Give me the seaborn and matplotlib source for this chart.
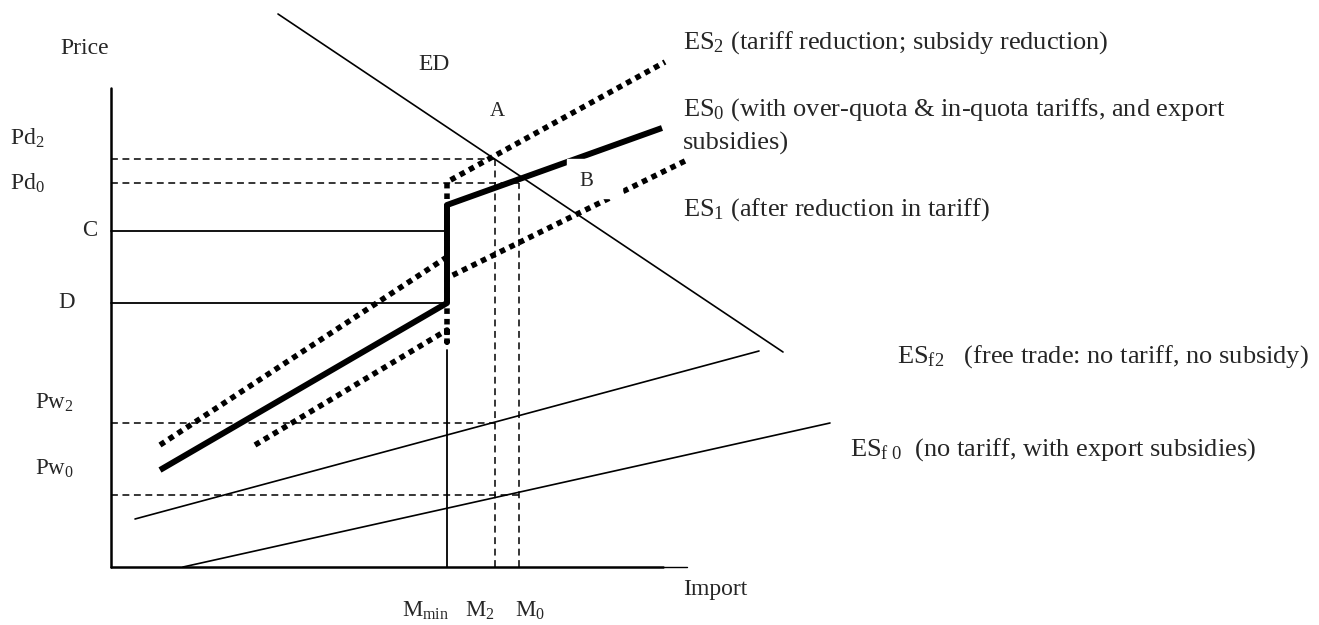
import matplotlib
matplotlib.use("Agg")
import matplotlib.pyplot as plt
import matplotlib.patches as mpatches
import pandas as pd
import seaborn as sns

sns.set_style("white")
plt.rcParams["font.family"] = ["Liberation Serif", "DejaVu Serif"]
plt.rcParams["mathtext.fontset"] = "custom"
plt.rcParams["mathtext.rm"] = "Liberation Serif"
plt.rcParams["mathtext.it"] = "Liberation Serif:italic"

# quantity (import) and price levels, origin at the axis corner
m_min, m2, m0 = 336, 384, 408
pd2, pd0, p_c, p_d, pw2, pw0 = 408, 384, 336, 264, 144, 72

# curves
ed_x = [167, 672]
ed_y = [553, 215]
es2_x = [49, 336, 336, 554]
es2_y = [122, 310, 385, 505]
es0_x = [49, 336, 336, 551]
es0_y = [97, 264, 362, 439]
es1_x = [144, 336, 336, 336, 576]
es1_y = [122, 237, 225, 289, 407]
esf2_x = [24, 648]
esf2_y = [48, 216]
esf0_x = [72, 719]
esf0_y = [0, 144]

fig = plt.figure(figsize=(13.19, 6.25), dpi=100)
ax = fig.add_axes([0, 0, 1, 1])
ax.set_xlim(-111, 1208)
ax.set_ylim(-58, 567)
ax.axis("off")

k = "black"
big = 19
mid = 16.5
small = 15


def curve(x, y, **kw):
    df = pd.DataFrame({"x": x, "y": y})
    sns.lineplot(data=df, x="x", y="y", sort=False, estimator=None, ax=ax,
                 color=k, **kw)


# axes
curve([0, 0], [0, 479], lw=1.8)
curve([0, 552], [0, 0], lw=1.8)
curve([552, 576], [0, 0], lw=1.0)

# reference lines
dash = dict(lw=1.1, dashes=(4.5, 3))
curve([0, m2], [pd2, pd2], **dash)
curve([m2, m2], [0, pd2], **dash)
curve([0, m0], [pd0, pd0], **dash)
curve([m0, m0], [0, pd0], **dash)
curve([0, m2], [pw2, pw2], **dash)
curve([0, m0], [pw0, pw0], **dash)
curve([0, m_min], [p_c, p_c], lw=1.3)
curve([0, m_min], [p_d, p_d], lw=1.3)
curve([m_min, m_min], [0, 217], lw=1.3)

# demand / supply curves
curve(ed_x, ed_y, lw=1.2)
curve(esf2_x, esf2_y, lw=1.2)
curve(esf0_x, esf0_y, lw=1.2)
dots = dict(lw=4.0, dashes=(1, 0.9), dash_capstyle="butt")
curve(es2_x, es2_y, **dots)
curve(es1_x, es1_y, **dots)
curve(es0_x, es0_y, lw=4.3, solid_capstyle="butt")

# text box of "B" covering the line
ax.add_patch(mpatches.Rectangle((456, 369), 55, 39, color="white", zorder=5))
ax.text(475, 385, "B", fontsize=small, ha="center", va="center", zorder=6)
ax.text(386, 455, "A", fontsize=small, ha="center", va="center")
ax.text(307, 502, "ED", fontsize=17, va="center")

ax.text(-51, 519, "Price", fontsize=17, va="center")
ax.text(-101, 429, r"Pd$_{\mathrm{2}}$", fontsize=17, va="center")
ax.text(-101, 384, r"Pd$_{\mathrm{0}}$", fontsize=17, va="center")
ax.text(-29, 336, "C", fontsize=mid, va="center")
ax.text(-53, 264, "D", fontsize=mid, va="center")
ax.text(-76, 164, r"Pw$_{\mathrm{2}}$", fontsize=mid, va="center")
ax.text(-76, 98, r"Pw$_{\mathrm{0}}$", fontsize=mid, va="center")

ax.text(572, 524, r"ES$_{\mathrm{2}}$ (tariff reduction; subsidy reduction)",
        fontsize=big, va="center")
ax.text(572, 457, r"ES$_{\mathrm{0}}$ (with over-quota & in-quota tariffs, and export",
        fontsize=big, va="center")
sub = ax.text(572, 424, "subsidies)", fontsize=big, va="center")
clip = mpatches.Rectangle((560, 417), 200, 40, transform=ax.transData,
                          visible=False)
ax.add_patch(clip)
sub.set_clip_path(clip)
ax.text(572, 357, r"ES$_{\mathrm{1}}$ (after reduction in tariff)",
        fontsize=big, va="center")
ax.text(786, 210, r"ES$_{\mathrm{f2}}$   (free trade: no tariff, no subsidy)",
        fontsize=big, va="center")
ax.text(739, 117, r"ES$_{\mathrm{f\ 0}}$  (no tariff, with export subsidies)",
        fontsize=big, va="center")

ax.text(572, -23, "Import", fontsize=17, va="center")
ax.text(291, -44, r"M$_{\mathrm{min}}$", fontsize=mid, va="center")
ax.text(354, -44, r"M$_{\mathrm{2}}$", fontsize=mid, va="center")
ax.text(404, -44, r"M$_{\mathrm{0}}$", fontsize=mid, va="center")

fig.savefig("out.png", dpi=100, facecolor="white")
